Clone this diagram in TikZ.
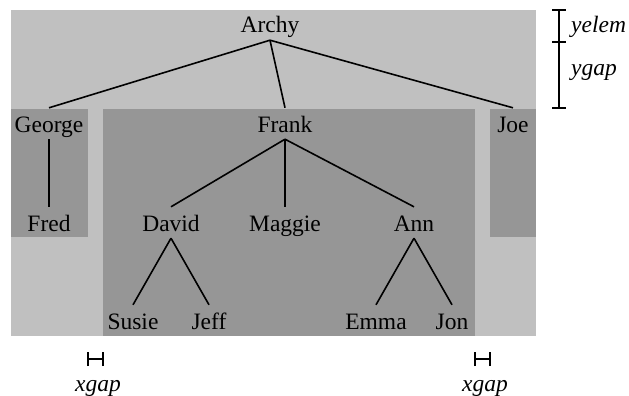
\documentclass[tikz,border=0pt]{standalone}
\usepackage{fontspec}
\setmainfont{Liberation Serif}
\definecolor{lightbg}{RGB}{192,192,192}
\definecolor{darkbg}{RGB}{150,150,150}
\begin{document}
\begin{tikzpicture}[x=1pt,y=-1pt,
  tn/.style={font=\fontsize{23.5}{28}\selectfont, text height=17pt, text depth=0pt, inner xsep=2pt, inner ysep=7pt, anchor=base},
  ann/.style={font=\fontsize{23.5}{28}\selectfont\itshape, inner sep=0pt, anchor=base},
  edge/.style={line width=1.6pt},
  mark line/.style={line width=1.4pt}]
\useasboundingbox (0,0) rectangle (629,396);
% backgrounds
\fill[lightbg] (11,10) rectangle (536,336);
\fill[darkbg] (11,109) rectangle (88,237);
\fill[darkbg] (103,109) rectangle (475,336);
\fill[darkbg] (490,109) rectangle (536,237);
% nodes
\node[tn] (archy) at (270,33) {Archy};
\node[tn] (george) at (49,132) {George};
\node[tn] (frank) at (285,132) {Frank};
\node[tn] (joe) at (513,132) {Joe};
\node[tn] (fred) at (49,231) {Fred};
\node[tn] (david) at (171,231) {David};
\node[tn] (maggie) at (285,231) {Maggie};
\node[tn] (ann) at (414,231) {Ann};
\node[tn] (susie) at (133,329) {Susie};
\node[tn] (jeff) at (209,329) {Jeff};
\node[tn] (emma) at (376,329) {Emma};
\node[tn] (jon) at (452,329) {Jon};
% edges
\draw[edge] (archy.south) -- (george.north);
\draw[edge] (archy.south) -- (frank.north);
\draw[edge] (archy.south) -- (joe.north);
\draw[edge] (george.south) -- (fred.north);
\draw[edge] (frank.south) -- (david.north);
\draw[edge] (frank.south) -- (maggie.north);
\draw[edge] (frank.south) -- (ann.north);
\draw[edge] (david.south) -- (susie.north);
\draw[edge] (david.south) -- (jeff.north);
\draw[edge] (ann.south) -- (emma.north);
\draw[edge] (ann.south) -- (jon.north);
% vertical dimension marks
\coordinate (ya) at (559,10);
\coordinate (yb) at (559,42);
\coordinate (yc) at (559,108);
\draw[mark line] (ya) -- (yc);
\draw[mark line] ([xshift=-7pt]ya) -- ([xshift=7pt]ya);
\draw[mark line] ([xshift=-7pt]yb) -- ([xshift=7pt]yb);
\draw[mark line] ([xshift=-7pt]yc) -- ([xshift=7pt]yc);
\node[ann, anchor=base west] (yelem) at (571,33) {yelem};
\node[ann, anchor=base west] (ygap) at (571,76) {ygap};
% horizontal dimension marks
\coordinate (xa1) at (88,359);
\coordinate (xa2) at (103,359);
\draw[mark line] (xa1) -- (xa2);
\draw[mark line] ([yshift=-7pt]xa1) -- ([yshift=7pt]xa1);
\draw[mark line] ([yshift=-7pt]xa2) -- ([yshift=7pt]xa2);
\node[ann] (xgap1) at (98,391) {xgap};
\coordinate (xb1) at (475,359);
\coordinate (xb2) at (490,359);
\draw[mark line] (xb1) -- (xb2);
\draw[mark line] ([yshift=-7pt]xb1) -- ([yshift=7pt]xb1);
\draw[mark line] ([yshift=-7pt]xb2) -- ([yshift=7pt]xb2);
\node[ann] (xgap2) at (485,391) {xgap};
\end{tikzpicture}
\end{document}
